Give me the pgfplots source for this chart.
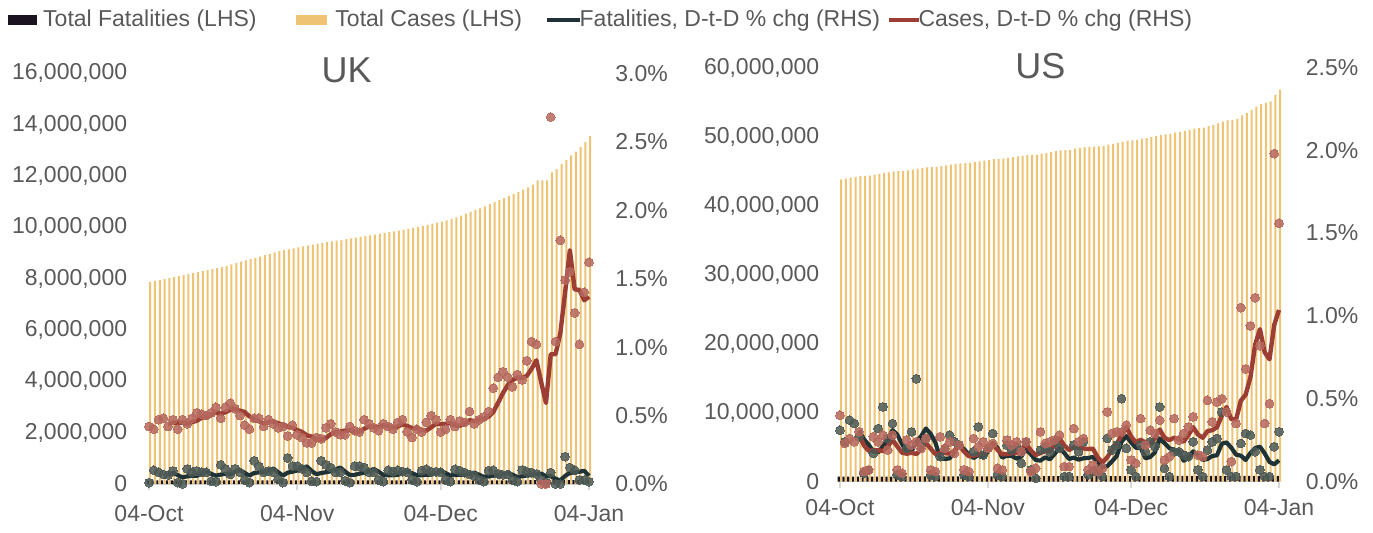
\documentclass[border=0pt]{standalone}
\usepackage{fontspec}
\setmainfont{Liberation Sans}
\usepackage{pgfplots}
\usepackage{pgfplotstable}
\pgfplotsset{compat=1.18}
\definecolor{casebar}{HTML}{EEC373}
\definecolor{fatbar}{HTML}{1B1320}
\definecolor{caseline}{HTML}{9C3E33}
\definecolor{casedot}{HTML}{B5675D}
\definecolor{fatline}{HTML}{1F3235}
\definecolor{fatdot}{HTML}{4C5955}
\definecolor{txt}{HTML}{595959}
\definecolor{axisgrey}{HTML}{D9D9D9}

% d: day since 04-Oct; cases/deaths in millions; cp/fp daily % chg; cma/fma 5-day averages
\pgfplotstableread{
d cases deaths cp cma fp fma
0 7.87 0.137 0.42 nan 0.010 nan
1 7.91 0.137 0.40 nan 0.100 nan
2 7.95 0.137 0.47 nan 0.085 nan
3 7.99 0.137 0.48 nan 0.070 nan
4 8.02 0.137 0.42 0.438 0.066 0.066
5 8.06 0.137 0.47 0.448 0.095 0.083
6 8.10 0.137 0.40 0.448 0.010 0.065
7 8.14 0.137 0.47 0.448 0.000 0.048
8 8.18 0.137 0.44 0.440 0.110 0.056
9 8.22 0.137 0.48 0.452 0.085 0.060
10 8.26 0.138 0.52 0.462 0.095 0.060
11 8.30 0.138 0.51 0.484 0.085 0.075
12 8.33 0.138 0.50 0.490 0.085 0.092
13 8.37 0.138 0.52 0.506 0.020 0.074
14 8.41 0.138 0.56 0.522 0.017 0.060
15 8.45 0.138 0.48 0.514 0.140 0.069
16 8.50 0.138 0.56 0.524 0.110 0.074
17 8.56 0.138 0.59 0.542 0.070 0.071
18 8.61 0.138 0.55 0.548 0.110 0.089
19 8.66 0.138 0.50 0.536 0.085 0.103
20 8.71 0.139 0.43 0.526 0.030 0.081
21 8.76 0.139 0.40 0.494 0.010 0.061
22 8.81 0.139 0.48 0.472 0.170 0.081
23 8.86 0.139 0.48 0.458 0.130 0.085
24 8.92 0.139 0.42 0.442 0.085 0.085
25 8.97 0.139 0.47 0.450 0.095 0.098
26 9.02 0.139 0.44 0.458 0.085 0.113
27 9.07 0.139 0.41 0.444 0.034 0.086
28 9.11 0.139 0.42 0.432 0.010 0.062
29 9.14 0.139 0.35 0.418 0.190 0.083
30 9.18 0.141 0.43 0.410 0.130 0.090
31 9.22 0.141 0.36 0.394 0.130 0.099
32 9.26 0.141 0.34 0.380 0.110 0.114
33 9.29 0.141 0.30 0.356 0.085 0.129
34 9.33 0.141 0.30 0.346 0.020 0.095
35 9.36 0.141 0.34 0.328 0.017 0.072
36 9.39 0.141 0.33 0.322 0.170 0.080
37 9.42 0.141 0.41 0.336 0.140 0.086
38 9.45 0.141 0.44 0.364 0.120 0.093
39 9.48 0.141 0.38 0.380 0.085 0.106
40 9.51 0.142 0.36 0.384 0.085 0.120
41 9.54 0.142 0.36 0.390 0.024 0.091
42 9.57 0.142 0.42 0.392 0.010 0.065
43 9.60 0.142 0.39 0.382 0.130 0.067
44 9.63 0.142 0.38 0.382 0.130 0.076
45 9.66 0.142 0.47 0.404 0.120 0.083
46 9.69 0.142 0.44 0.420 0.085 0.095
47 9.72 0.142 0.41 0.418 0.085 0.110
48 9.75 0.142 0.39 0.418 0.030 0.090
49 9.78 0.142 0.44 0.430 0.017 0.067
50 9.81 0.143 0.42 0.420 0.100 0.063
51 9.84 0.143 0.40 0.412 0.090 0.064
52 9.87 0.143 0.45 0.420 0.100 0.067
53 9.90 0.143 0.47 0.436 0.090 0.079
54 9.94 0.143 0.38 0.424 0.085 0.093
55 9.98 0.143 0.34 0.408 0.030 0.079
56 10.02 0.143 0.40 0.408 0.017 0.064
57 10.06 0.143 0.38 0.394 0.097 0.064
58 10.10 0.143 0.45 0.390 0.107 0.067
59 10.14 0.143 0.50 0.414 0.090 0.068
60 10.18 0.145 0.47 0.440 0.090 0.080
61 10.22 0.145 0.38 0.436 0.085 0.094
62 10.27 0.145 0.40 0.440 0.030 0.080
63 10.33 0.145 0.47 0.444 0.017 0.062
64 10.39 0.145 0.42 0.428 0.107 0.066
65 10.46 0.145 0.46 0.426 0.097 0.067
66 10.53 0.145 0.45 0.440 0.083 0.067
67 10.60 0.145 0.53 0.466 0.070 0.075
68 10.67 0.145 0.44 0.460 0.060 0.083
69 10.74 0.145 0.47 0.470 0.030 0.068
70 10.82 0.146 0.49 0.476 0.017 0.052
71 10.90 0.146 0.53 0.492 0.097 0.055
72 10.98 0.146 0.70 0.526 0.100 0.061
73 11.06 0.146 0.78 0.594 0.073 0.063
74 11.14 0.146 0.82 0.664 0.066 0.071
75 11.22 0.146 0.78 0.722 0.070 0.081
76 11.30 0.146 0.71 0.758 0.030 0.068
77 11.38 0.146 0.80 0.778 0.017 0.051
78 11.47 0.146 0.76 0.774 0.102 0.057
79 11.56 0.146 0.90 0.790 0.090 0.062
80 11.66 0.147 1.04 0.842 0.083 0.064
81 11.83 0.147 1.02 0.904 0.073 0.073
82 11.83 0.147 0.00 0.744 0.030 0.076
83 11.83 0.147 0.00 0.592 0.010 0.057
84 12.14 0.147 2.68 0.948 0.083 0.056
85 12.27 0.147 1.04 0.948 0.000 0.039
86 12.46 0.147 1.78 1.100 0.000 0.025
87 12.63 0.148 1.49 1.398 0.200 0.059
88 12.80 0.148 1.55 1.708 0.120 0.081
89 12.95 0.148 1.25 1.422 0.100 0.084
90 13.12 0.148 1.02 1.418 0.030 0.090
91 13.32 0.148 1.40 1.342 0.030 0.096
92 13.56 0.149 1.62 1.368 0.017 0.059
}\uk

\pgfplotstableread{
d cases deaths cp cma fp fma
0 43.80 0.705 0.40 nan 0.31 nan
1 43.91 0.706 0.23 nan 0.24 nan
2 44.03 0.708 0.26 nan 0.37 nan
3 44.14 0.709 0.24 nan 0.35 nan
4 44.28 0.710 0.30 0.286 0.27 0.308
5 44.31 0.712 0.06 0.218 0.05 0.256
6 44.35 0.713 0.07 0.186 0.07 0.222
7 44.47 0.714 0.27 0.188 0.17 0.182
8 44.58 0.716 0.24 0.188 0.32 0.176
9 44.72 0.717 0.28 0.184 0.45 0.212
10 44.81 0.718 0.19 0.210 0.26 0.254
11 44.94 0.720 0.28 0.252 0.35 0.310
12 44.97 0.721 0.07 0.212 0.04 0.284
13 44.99 0.722 0.05 0.174 0.03 0.226
14 45.11 0.724 0.25 0.168 0.20 0.176
15 45.21 0.725 0.22 0.174 0.30 0.184
16 45.33 0.726 0.24 0.166 0.62 0.238
17 45.42 0.728 0.20 0.192 0.22 0.274
18 45.54 0.729 0.26 0.234 0.26 0.320
19 45.58 0.730 0.07 0.198 0.04 0.288
20 45.60 0.732 0.06 0.166 0.03 0.234
21 45.73 0.733 0.27 0.172 0.15 0.140
22 45.83 0.734 0.20 0.172 0.20 0.136
23 45.94 0.736 0.24 0.168 0.28 0.140
24 46.02 0.737 0.17 0.188 0.24 0.180
25 46.12 0.738 0.22 0.220 0.22 0.218
26 46.15 0.740 0.07 0.180 0.04 0.196
27 46.18 0.741 0.06 0.152 0.03 0.162
28 46.31 0.742 0.26 0.156 0.18 0.142
29 46.40 0.744 0.21 0.164 0.33 0.160
30 46.52 0.745 0.24 0.168 0.16 0.148
31 46.61 0.746 0.20 0.194 0.20 0.180
32 46.72 0.748 0.23 0.228 0.29 0.232
33 46.76 0.749 0.08 0.192 0.04 0.204
34 46.79 0.750 0.07 0.164 0.03 0.144
35 46.91 0.752 0.25 0.166 0.22 0.156
36 47.01 0.753 0.22 0.170 0.19 0.154
37 47.12 0.754 0.24 0.172 0.21 0.138
38 47.21 0.756 0.18 0.192 0.11 0.152
39 47.32 0.757 0.24 0.226 0.24 0.194
40 47.35 0.758 0.06 0.188 0.07 0.164
41 47.39 0.760 0.08 0.160 0.02 0.130
42 47.53 0.761 0.30 0.172 0.19 0.126
43 47.64 0.762 0.23 0.182 0.21 0.146
44 47.75 0.764 0.24 0.182 0.18 0.134
45 47.87 0.765 0.25 0.220 0.24 0.168
46 48.00 0.766 0.28 0.260 0.20 0.204
47 48.04 0.768 0.09 0.218 0.03 0.172
48 48.08 0.769 0.09 0.190 0.03 0.136
49 48.23 0.770 0.32 0.206 0.22 0.144
50 48.34 0.772 0.24 0.204 0.18 0.132
51 48.47 0.773 0.26 0.200 0.24 0.140
52 48.50 0.774 0.07 0.196 0.04 0.142
53 48.55 0.776 0.10 0.198 0.06 0.148
54 48.58 0.777 0.06 0.146 0.07 0.118
55 48.61 0.778 0.08 0.114 0.03 0.088
56 48.81 0.780 0.42 0.146 0.26 0.092
57 48.95 0.781 0.29 0.190 0.19 0.122
58 49.09 0.782 0.30 0.230 0.22 0.154
59 49.23 0.784 0.30 0.278 0.50 0.240
60 49.39 0.785 0.34 0.330 0.20 0.274
61 49.45 0.786 0.13 0.272 0.07 0.236
62 49.50 0.788 0.11 0.236 0.03 0.204
63 49.68 0.789 0.38 0.252 0.22 0.204
64 49.78 0.790 0.22 0.236 0.18 0.140
65 49.93 0.792 0.31 0.230 0.24 0.148
66 50.07 0.793 0.29 0.262 0.21 0.176
67 50.24 0.794 0.37 0.314 0.45 0.260
68 50.30 0.796 0.13 0.264 0.08 0.232
69 50.37 0.797 0.15 0.250 0.03 0.202
70 50.55 0.798 0.38 0.264 0.18 0.190
71 50.67 0.800 0.25 0.256 0.18 0.184
72 50.80 0.801 0.29 0.240 0.16 0.126
73 50.96 0.802 0.33 0.280 0.15 0.140
74 51.14 0.804 0.39 0.328 0.24 0.182
75 51.22 0.805 0.16 0.284 0.07 0.160
76 51.29 0.806 0.15 0.264 0.03 0.130
77 51.52 0.808 0.49 0.304 0.19 0.136
78 51.69 0.809 0.36 0.310 0.24 0.154
79 51.91 0.810 0.48 0.328 0.26 0.158
80 52.15 0.812 0.50 0.396 0.42 0.228
81 52.34 0.813 0.42 0.450 0.07 0.236
82 52.40 0.814 0.12 0.376 0.03 0.204
83 52.57 0.816 0.35 0.374 0.03 0.162
84 53.06 0.817 1.05 0.488 0.23 0.156
85 53.38 0.818 0.68 0.524 0.29 0.130
86 53.82 0.820 0.94 0.628 0.28 0.172
87 54.34 0.821 1.11 0.826 0.18 0.202
88 54.73 0.822 0.82 0.920 0.07 0.210
89 54.89 0.824 0.35 0.780 0.03 0.170
90 55.11 0.825 0.47 0.738 0.03 0.118
91 56.04 0.826 1.98 0.946 0.21 0.104
92 56.78 0.828 1.56 1.036 0.30 0.128
}\us

\tikzset{paneltitle/.style={font=\fontsize{18}{20}\selectfont, text=txt, anchor=center, inner sep=0pt}}

\pgfplotsset{
  common/.style={
    scale only axis,
    xmin=-0.5, xmax=92.5,
    ymin=0,
    tick label style={font=\fontsize{11.5}{13}\selectfont, text=txt},
    tick align=outside,
    major tick length=3pt,
    ytick style={draw=none},
    y axis line style={draw=none},
  },
  leftax/.style={common,
    axis x line*=bottom, axis y line*=left,
    x axis line style={draw=axisgrey, line width=0.9pt},
    xtick style={draw=axisgrey, line width=0.9pt},
    xtick={0,31,61,92},
    xticklabels={04-Oct,04-Nov,04-Dec,04-Jan},
  },
  rightax/.style={common,
    axis y line*=right, axis x line=none,
    xtick=\empty, clip=false,
  },
  fatbars/.style={ybar, bar width=1.1pt, bar shift=-0.6pt, fill=fatbar, draw=none, forget plot},
  casebars/.style={ybar, bar width=1pt, bar shift=0.6pt, fill=casebar, draw=none, forget plot},
  fatdots/.style={only marks, mark=*, mark size=2.2pt, color=fatdot,
    mark options={fill=fatdot, draw=fatdot, line width=0pt, opacity=0.85}, forget plot},
  casedots/.style={only marks, mark=*, mark size=2.2pt, color=casedot,
    mark options={fill=casedot, draw=casedot, line width=0pt, opacity=0.85}, forget plot},
  fatma/.style={fatline, line width=2.1pt, line join=round, mark=none, forget plot},
  casema/.style={caseline, line width=2.2pt, line join=round, mark=none, forget plot},
}

\begin{document}
\begin{tikzpicture}
\path[use as bounding box] (0,0) rectangle (686.5pt,266pt);

% ---------- UK ----------
\begin{axis}[leftax, at={(73.3pt,24pt)}, anchor=south west,
  width=222.4pt, height=205.35pt, clip=false,
  ymax=16, ytick={0,2,4,6,8,10,12,14,16},
  yticklabels={0,{2,000,000},{4,000,000},{6,000,000},{8,000,000},{10,000,000},{12,000,000},{14,000,000},{16,000,000}},
  yticklabel style={xshift=-3.2pt},
  xticklabel style={yshift=-4pt},
  legend style={draw=none, fill=none, font=\fontsize{11.5}{13}\selectfont, text=txt,
    at={(-0.3116,1.1298)}, anchor=west, inner sep=0pt,
    nodes={inner sep=0.5pt},
    /tikz/column 1/.style={column sep=2.5pt},
    /tikz/column 2/.style={column sep=19pt},
    /tikz/column 3/.style={column sep=4pt},
    /tikz/column 4/.style={column sep=11pt},
    /tikz/column 5/.style={column sep=-1.5pt},
    /tikz/column 6/.style={column sep=3pt},
    /tikz/column 7/.style={column sep=-1.5pt}},
  legend columns=4, legend cell align=left]
\addlegendimage{legend image code/.code={\fill[fatbar] (0pt,-2.4pt) rectangle (14pt,2.4pt);}}
\addlegendentry{Total Fatalities (LHS)}
\addlegendimage{legend image code/.code={\fill[casebar] (0pt,-2.4pt) rectangle (15pt,2.4pt);}}
\addlegendentry{Total Cases (LHS)}
\addlegendimage{legend image code/.code={\draw[fatline, line width=1.8pt] (0pt,0pt) -- (16.5pt,0pt);}}
\addlegendentry{Fatalities, D-t-D \% chg (RHS)}
\addlegendimage{legend image code/.code={\draw[caseline, line width=1.8pt] (0pt,0pt) -- (15pt,0pt);}}
\addlegendentry{Cases, D-t-D \% chg (RHS)}
\addplot[fatbars] table[x=d, y=deaths]{\uk};
\addplot[casebars] table[x=d, y=cases]{\uk};
\node[paneltitle] at (rel axis cs:0.45,1.007) {UK};
\end{axis}

\begin{axis}[rightax, at={(73.3pt,24pt)}, anchor=south west,
  width=222.4pt, height=205.35pt,
  ymax=3, ytick={0,0.5,1,1.5,2,2.5,3},
  yticklabels={0.0\%,0.5\%,1.0\%,1.5\%,2.0\%,2.5\%,3.0\%},
  yticklabel style={xshift=5.5pt}]
\addplot[fatdots] table[x=d, y=fp]{\uk};
\addplot[casedots] table[x=d, y=cp]{\uk};
\addplot[fatma] table[x=d, y=fma]{\uk};
\addplot[casema] table[x=d, y=cma]{\uk};
\end{axis}

% ---------- US ----------
\begin{axis}[leftax, at={(418.8pt,25.25pt)}, anchor=south west,
  width=221.9pt, height=207pt, clip=false,
  ymax=60, ytick={0,10,20,30,40,50,60},
  yticklabels={0,{10,000,000},{20,000,000},{30,000,000},{40,000,000},{50,000,000},{60,000,000}},
  yticklabel style={xshift=-2.7pt},
  xticklabel style={yshift=-2.5pt}]
\addplot[fatbars] table[x=d, y=deaths]{\us};
\addplot[casebars] table[x=d, y=cases]{\us};
\node[paneltitle] at (rel axis cs:0.457,1.0024) {US};
\end{axis}

\begin{axis}[rightax, at={(418.8pt,25.25pt)}, anchor=south west,
  width=221.9pt, height=207pt,
  ymax=2.5, ytick={0,0.5,1,1.5,2,2.5},
  yticklabels={0.0\%,0.5\%,1.0\%,1.5\%,2.0\%,2.5\%},
  yticklabel style={xshift=5.7pt}]
\addplot[fatdots] table[x=d, y=fp]{\us};
\addplot[casedots] table[x=d, y=cp]{\us};
\addplot[fatma] table[x=d, y=fma]{\us};
\addplot[casema] table[x=d, y=cma]{\us};
\end{axis}
\end{tikzpicture}
\end{document}
